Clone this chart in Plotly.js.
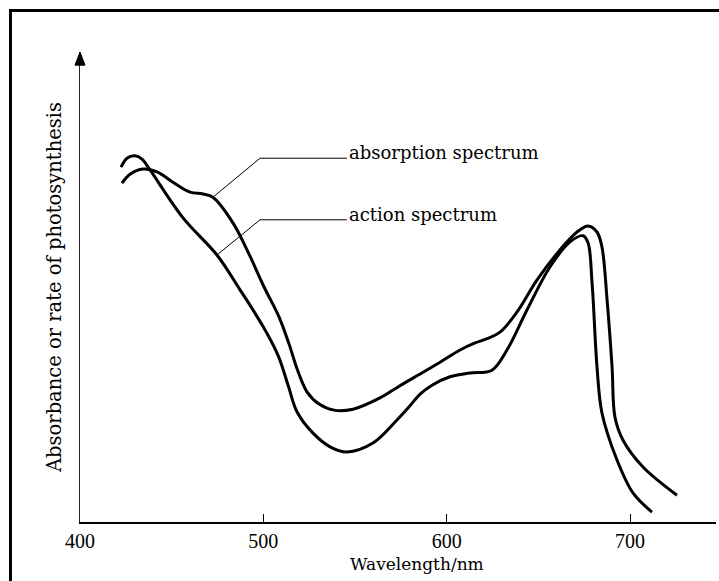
<!DOCTYPE html>
<html>
<head>
<meta charset="utf-8">
<script src="https://cdn.plot.ly/plotly-3.0.1.min.js"></script>
<style>
  html, body { margin: 0; padding: 0; background: #fff; }
  #chart { position: absolute; left: 0; top: 0; width: 719px; height: 581px; }
  #frame { position: absolute; left: 9px; top: 9px; width: 720px; height: 600px;
           border-top: 3px solid #000; border-left: 3px solid #000; pointer-events: none; }
</style>
</head>
<body>
<div id="chart"></div>
<div id="frame"></div>
<script>
// Absorption spectrum (wavelength nm, relative value)
const absorptionWl = [422.9, 427.3, 434.4, 442.0, 450.7, 460.0, 467.1, 472.5, 483.5, 492.2, 500.4, 508.6, 514.0, 518.4, 523.8, 530.4, 538.6, 548.9, 563.6, 574.5, 585.5, 596.4, 607.3, 615.5, 622.0, 629.1, 638.4, 649.3, 661.8, 671.1, 677.1, 682.0, 684.7, 687.5, 690.2, 691.8, 696.2, 707.1, 725.6];
const absorptionVal = [72.1, 74.0, 75.1, 74.5, 72.3, 70.2, 69.8, 69.1, 63.6, 57.0, 50.0, 43.6, 37.9, 32.6, 27.7, 25.1, 23.8, 24.0, 26.4, 29.0, 31.5, 34.0, 36.6, 38.1, 39.0, 40.4, 44.7, 51.5, 57.9, 61.7, 63.0, 61.7, 58.5, 47.2, 33.0, 22.3, 17.4, 11.7, 5.7];

// Action spectrum
const actionWl = [422.4, 425.6, 430.0, 433.8, 438.2, 456.2, 474.7, 487.3, 494.4, 501.6, 508.2, 513.6, 518.4, 527.1, 536.4, 545.6, 559.8, 572.9, 579.5, 585.5, 592.0, 601.8, 612.7, 624.7, 632.9, 643.8, 656.4, 667.3, 674.4, 677.1, 679.3, 682.0, 684.7, 692.9, 701.6, 712.0];
const actionVal = [75.5, 77.4, 77.9, 77.2, 74.9, 64.7, 56.8, 49.4, 45.1, 40.4, 35.3, 29.0, 23.4, 18.9, 16.0, 14.9, 16.8, 21.7, 24.5, 27.2, 29.1, 30.9, 31.7, 32.3, 36.6, 45.1, 54.3, 59.6, 60.9, 59.4, 50.9, 33.0, 23.2, 13.2, 6.2, 2.1];

const xTicks = [400, 500, 600, 700];
const xTickLabels = ['400', '500', '600', '700'];
const labels = ['absorption spectrum', 'action spectrum'];
const xTitle = 'Wavelength/nm';

const serif = 'Liberation Serif, Times New Roman, serif';
const wideSerif = 'DejaVu Serif, serif';

const traces = [
  { x: absorptionWl, y: absorptionVal, mode: 'lines', type: 'scatter',
    line: { color: '#000', width: 3, shape: 'spline', smoothing: 1 }, hoverinfo: 'skip' },
  { x: actionWl, y: actionVal, mode: 'lines', type: 'scatter',
    line: { color: '#000', width: 3, shape: 'spline', smoothing: 1 }, hoverinfo: 'skip' }
];

const layout = {
  width: 719, height: 581,
  margin: { l: 80, r: 3, t: 52, b: 59 },
  paper_bgcolor: '#fff', plot_bgcolor: '#fff',
  showlegend: false,
  font: { family: serif, color: '#000' },
  xaxis: {
    range: [400, 746.9], showgrid: false, zeroline: false,
    showline: true, linecolor: '#000', linewidth: 2,
    tickmode: 'array', tickvals: xTicks, ticktext: xTickLabels,
    ticks: 'inside', ticklen: 8, tickwidth: 1, tickcolor: '#000',
    tickfont: { family: serif, size: 20, color: '#000' }
  },
  yaxis: {
    range: [0, 100], showgrid: false, zeroline: false,
    showline: true, linecolor: '#222', linewidth: 1,
    showticklabels: false, ticks: '',
    title: { text: 'Absorbance or rate of photosynthesis', font: { family: wideSerif, size: 19.5, color: '#000' }, standoff: 12 }
  },
  shapes: [
    { type: 'path', xref: 'paper', yref: 'paper', path: 'M -0.0079 0.972 L 0 1.0 L 0.0079 0.972 Z',
      fillcolor: '#000', line: { color: '#000', width: 1 } },
    { type: 'path', xref: 'x', yref: 'y', path: 'M 472.5 69.1 L 498.2 77.4 L 545.6 77.4',
      line: { color: '#000', width: 1 } },
    { type: 'path', xref: 'x', yref: 'y', path: 'M 474.7 56.8 L 498.2 64.3 L 545.6 64.3',
      line: { color: '#000', width: 1 } }
  ],
  annotations: [
    { x: 545.8, y: 77.4, xref: 'x', yref: 'y', text: labels[0], showarrow: false,
      xanchor: 'left', yanchor: 'bottom', yshift: -7, font: { family: wideSerif, size: 18, color: '#000' } },
    { x: 545.8, y: 64.3, xref: 'x', yref: 'y', text: labels[1], showarrow: false,
      xanchor: 'left', yanchor: 'bottom', yshift: -7, font: { family: wideSerif, size: 18, color: '#000' } },
    { x: 0.53, y: 0, xref: 'paper', yref: 'paper', text: xTitle, showarrow: false,
      xanchor: 'center', yanchor: 'middle', yshift: -42, font: { family: wideSerif, size: 17, color: '#000' } }
  ]
};

Plotly.newPlot('chart', traces, layout, { displayModeBar: false, staticPlot: true });
</script>
</body>
</html>
